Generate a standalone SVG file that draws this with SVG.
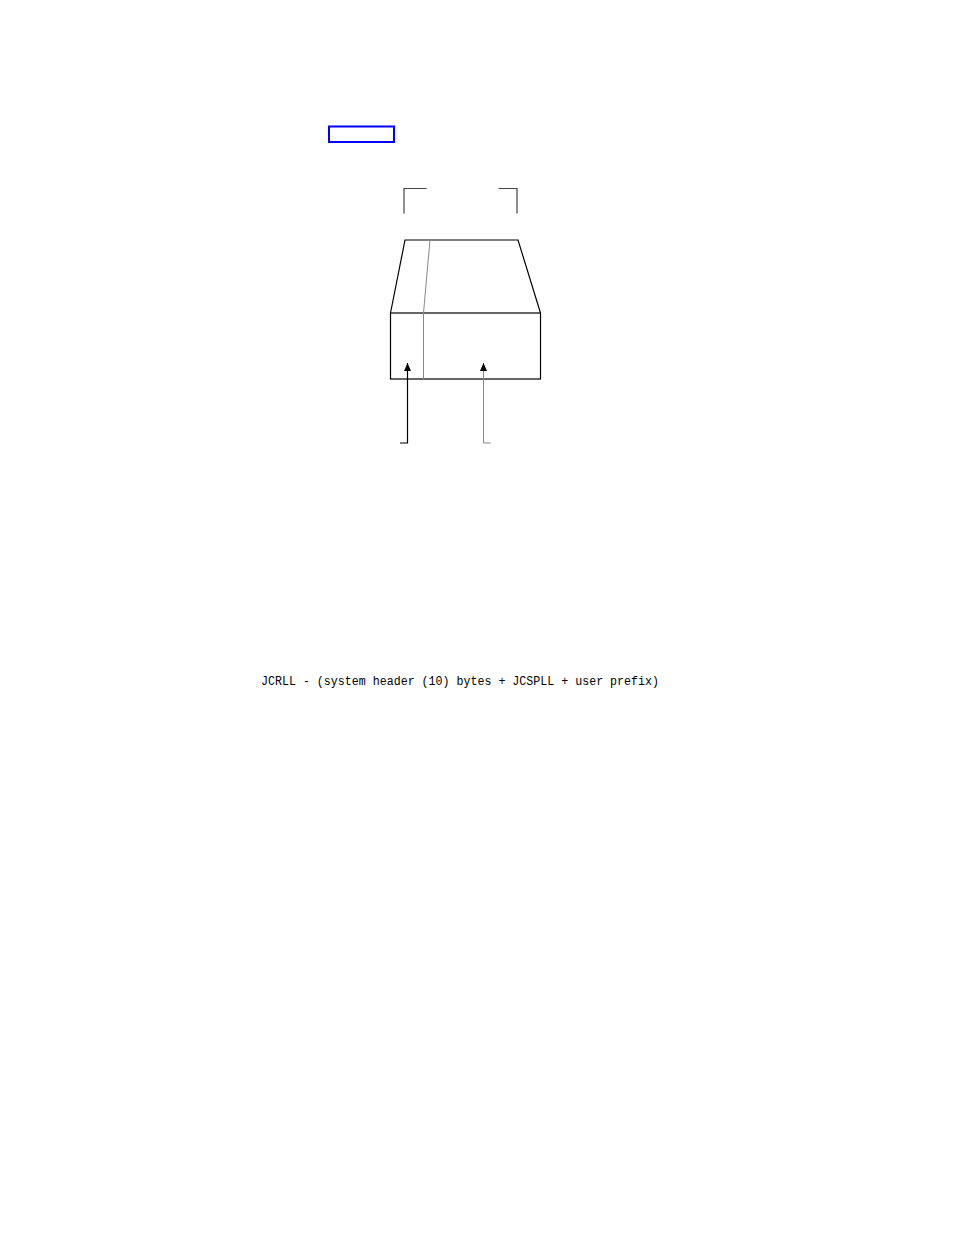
<svg xmlns="http://www.w3.org/2000/svg" width="954" height="1235" viewBox="0 0 954 1235">
<style>
.ln{fill:none;stroke:#000;stroke-width:1.2}
.gr{fill:none;stroke:#888;stroke-width:1}
.br{fill:none;stroke:#444;stroke-width:1.2}
.lbl{font-family:"Liberation Mono","DejaVu Sans Mono",monospace;font-size:12.5px;fill:#000}
</style>
<defs>
<marker id="ah" markerWidth="8" markerHeight="7" refX="8" refY="3.5" orient="auto" markerUnits="userSpaceOnUse" viewBox="0 0 8 7">
<path d="M0,0 L8,3.5 L0,7 Z" fill="#000"/>
</marker>
</defs>
<rect width="954" height="1235" fill="#fff"/>
<g id="blue-box"><rect x="329" y="126.5" width="65" height="15.5" fill="none" stroke="#0000ff" stroke-width="2"/></g>
<g id="bracket-left"><path class="br" d="M404,213.5 V188.5 H426.5"/></g>
<g id="bracket-right"><path class="br" d="M498.5,188.5 H517 V213.5"/></g>
<g id="record">
<path class="ln" d="M390.5,313 L405,240 H518 L540.5,313"/>
<rect class="ln" x="390.5" y="313" width="150" height="66"/>
<path class="gr" d="M430,240 L423.5,313 V379"/>
</g>
<g id="connectors">
<path class="ln" d="M400,443 H407.5 V363" marker-end="url(#ah)" stroke="#333"/>
<path class="gr" d="M490.5,443 H483.5 V363" marker-end="url(#ah)" stroke="#555"/>
</g>
<g id="caption"><text class="lbl" x="261" y="685" textLength="398" lengthAdjust="spacingAndGlyphs">JCRLL - (system header (10) bytes + JCSPLL + user prefix)</text></g>
</svg>
